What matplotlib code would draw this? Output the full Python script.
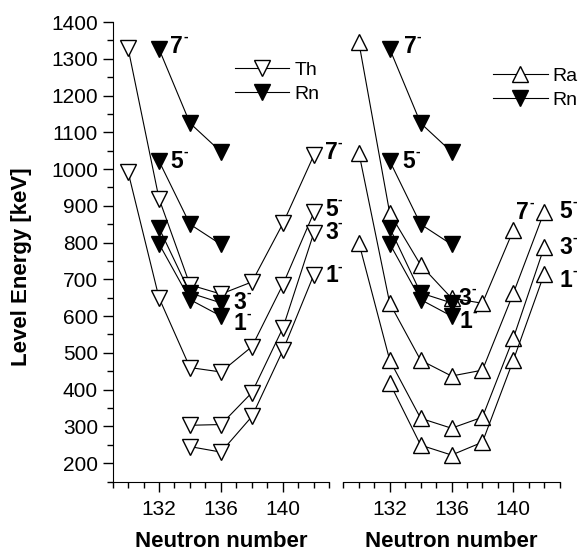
import numpy as np
import matplotlib
matplotlib.use('Agg')
import matplotlib.pyplot as plt
from matplotlib.ticker import MultipleLocator, FixedLocator

plt.rcParams['font.family'] = ['Liberation Sans', 'DejaVu Sans']

# Th levels (open down triangles, left panel)
N_th = [130, 132, 134, 136, 138, 140, 142]
th_7 = [1330, 920, 685, 660, 693, 852, 1038]
th_5 = [993, 650, 460, 448, 517, 686, 882]
N_th_low = [134, 136, 138, 140, 142]
th_3 = [303, 305, 392, 568, 827]
th_1 = [245, 230, 327, 507, 713]

# Rn levels (filled down triangles, both panels)
N_rn = [132, 134, 136]
rn_7 = [1327, 1125, 1047]
rn_5 = [1022, 850, 795]
rn_3 = [840, 663, 636]
rn_1 = [797, 645, 600]

# Ra levels (open up triangles, right panel)
N_ra_7 = [130, 132, 134, 136, 138, 140]
ra_7 = [1345, 880, 739, 649, 635, 834]
N_ra = [130, 132, 134, 136, 138, 140, 142]
ra_5 = [1045, 635, 480, 437, 453, 662, 884]
ra_3 = [800, 480, 322, 295, 325, 540, 788]
N_ra_1 = [132, 134, 136, 138, 140, 142]
ra_1 = [418, 249, 222, 257, 480, 715]

fig = plt.figure(figsize=(5.83, 5.52), dpi=100)
ax1 = fig.add_axes([0.193, 0.1277, 0.372, 0.8323])
ax2 = fig.add_axes([0.589, 0.1277, 0.371, 0.8323], sharey=ax1)

lw = 0.8
ms = 11
open_v = dict(marker='v', mfc='white', mec='black', ms=ms, mew=1.0, color='black', lw=lw)
open_up = dict(marker='^', mfc='white', mec='black', ms=ms, mew=1.0, color='black', lw=lw)
full_v = dict(marker='v', mfc='black', mec='black', ms=ms, mew=1.0, color='black', lw=lw)

# left panel
ax1.plot(N_th, th_7, label='Th', **open_v)
ax1.plot(N_th, th_5, **open_v)
ax1.plot(N_th_low, th_3, **open_v)
ax1.plot(N_th_low, th_1, **open_v)
ax1.plot(N_rn, rn_7, label='Rn', **full_v)
ax1.plot(N_rn, rn_5, **full_v)
ax1.plot(N_rn, rn_3, **full_v)
ax1.plot(N_rn, rn_1, **full_v)

# right panel
ax2.plot(N_ra_7, ra_7, label='Ra', **open_up)
ax2.plot(N_ra, ra_5, **open_up)
ax2.plot(N_ra, ra_3, **open_up)
ax2.plot(N_ra_1, ra_1, **open_up)
ax2.plot(N_rn, rn_7, label='Rn', **full_v)
ax2.plot(N_rn, rn_5, **full_v)
ax2.plot(N_rn, rn_3, **full_v)
ax2.plot(N_rn, rn_1, **full_v)

def lab(ax, txt, x, y, dx, dy):
    # spin label: bold number with a small superscript dash
    ax.annotate(txt, (x, y), xytext=(dx, dy), textcoords='offset points',
                ha='left', va='center', fontsize=16.5, fontweight='bold')
    ax.annotate('-', (x, y), xytext=(dx + 9.3, dy + 7), textcoords='offset points',
                ha='left', va='center', fontsize=10, fontweight='bold')

lab(ax1, '7', N_rn[0], rn_7[0], 8, 2)
lab(ax1, '5', N_rn[0], rn_5[0], 8, 0)
lab(ax1, '3', N_rn[2], rn_3[2], 9, 0)
lab(ax1, '1', N_rn[2], rn_1[2], 9, -5)
lab(ax1, '7', N_th[-1], th_7[-1], 8, 2)
lab(ax1, '5', N_th[-1], th_5[-1], 8, 2)
lab(ax1, '3', N_th_low[-1], th_3[-1], 8, 0)
lab(ax1, '1', N_th_low[-1], th_1[-1], 8, -1)

lab(ax2, '7', N_rn[0], rn_7[0], 10, 2)
lab(ax2, '5', N_rn[0], rn_5[0], 9, 0)
lab(ax2, '3', N_rn[2], rn_3[2], 5, 3)
lab(ax2, '1', N_rn[2], rn_1[2], 6, -4)
lab(ax2, '7', N_ra_7[-1], ra_7[-1], 2, 13)
lab(ax2, '5', N_ra[-1], ra_5[-1], 11, 0)
lab(ax2, '3', N_ra[-1], ra_3[-1], 11, 0)
lab(ax2, '1', N_ra_1[-1], ra_1[-1], 11, -5)

for ax in (ax1, ax2):
    ax.set_xlim(129, 143)
    ax.xaxis.set_major_locator(FixedLocator([132, 136, 140]))
    ax.xaxis.set_minor_locator(MultipleLocator(1))
    ax.spines['top'].set_visible(False)
    ax.spines['right'].set_visible(False)
    ax.tick_params(axis='x', which='major', direction='out', length=7, width=1, labelsize=15, pad=6)
    ax.tick_params(axis='x', which='minor', direction='out', length=4.5, width=1)
    ax.set_xlabel('Neutron number', fontsize=16, fontweight='bold', labelpad=9)
    ax.legend(loc='center left', frameon=False, fontsize=14, handlelength=2.8,
              handletextpad=0.25, labelspacing=0.35, borderpad=0, borderaxespad=0)

ax1.get_legend().set_bbox_to_anchor((0.565, 0.869), transform=ax1.transAxes)
ax2.get_legend().set_bbox_to_anchor((0.692, 0.856), transform=ax2.transAxes)

ax1.set_ylim(150, 1400)
ax1.set_yticks(np.arange(200, 1401, 100))
ax1.yaxis.set_minor_locator(MultipleLocator(50))
ax1.tick_params(axis='y', which='major', direction='out', length=7, width=1, labelsize=15)
ax1.tick_params(axis='y', which='minor', direction='out', length=4.5, width=1)
ax1.set_ylabel('Level Energy [keV]', fontsize=16, fontweight='bold')
ax1.yaxis.set_label_coords(-0.37, 0.467)

ax2.spines['left'].set_visible(False)
ax2.tick_params(axis='y', which='both', left=False, labelleft=False)

fig.savefig('out.png', dpi=100)
